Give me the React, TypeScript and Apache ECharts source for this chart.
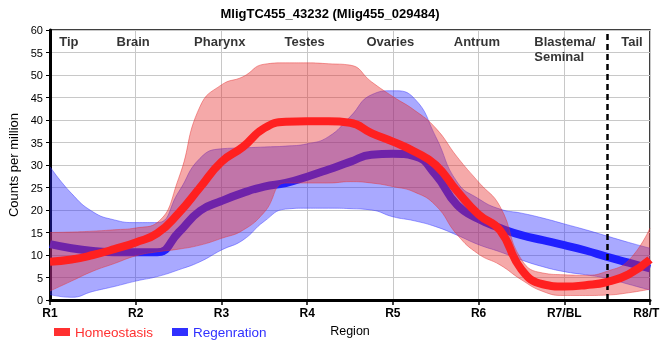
import React, { useEffect, useRef } from 'react';
import * as echarts from 'echarts';

// sample positions along the body axis (0 = R1 ... 7 = R8)
const positions = [0, 0.25, 0.5, 0.75, 1, 1.25, 1.5, 1.75, 2, 2.25, 2.5, 2.75, 3, 3.25, 3.5, 3.75, 4, 4.25, 4.5, 4.75, 5, 5.25, 5.5, 5.75, 6, 6.25, 6.5, 6.75, 7];
const regionTicks = ['R1', 'R2', 'R3', 'R4', 'R5', 'R6', 'R7/BL', 'R8/TL'];

const homeoMean = [8.5, 9.0, 10.0, 11.3, 12.8, 14.8, 19.3, 25.0, 30.7, 34.0, 38.2, 39.6, 39.7, 39.7, 39.4, 37.1, 35.2, 33.0, 30.0, 24.2, 19.0, 15.5, 6.8, 3.5, 3.0, 3.3, 4.0, 5.7, 9.0];
const homeoHigh = [15.0, 15.1, 15.3, 15.6, 16.0, 17.2, 27.0, 43.0, 47.8, 49.6, 52.4, 52.7, 52.7, 52.5, 52.2, 48.5, 45.2, 42.2, 38.2, 31.8, 26.2, 20.8, 9.0, 6.0, 5.6, 5.5, 6.4, 8.8, 16.0];
const homeoLow = [2.0, 4.2, 6.4, 8.1, 9.8, 10.7, 11.3, 12.2, 13.7, 15.5, 19.5, 26.0, 26.0, 26.0, 26.3, 26.0, 25.2, 24.0, 21.0, 14.5, 10.2, 7.8, 4.5, 1.9, 1.0, 1.0, 1.1, 1.6, 2.4];

const regenMean = [12.4, 11.5, 10.9, 10.6, 10.6, 10.6, 15.0, 19.8, 22.0, 23.8, 25.2, 26.0, 27.4, 29.0, 30.7, 32.3, 32.5, 32.0, 27.8, 21.1, 18.0, 16.0, 14.4, 13.3, 12.2, 11.0, 9.6, 8.3, 7.0];
const regenHigh = [29.6, 23.7, 19.6, 17.8, 17.2, 17.2, 24.0, 31.5, 33.6, 33.8, 34.0, 34.2, 34.7, 36.3, 40.7, 45.6, 46.5, 44.8, 36.3, 26.2, 22.5, 20.2, 19.3, 18.2, 16.9, 15.6, 14.2, 12.8, 11.5];
const regenLow = [1.2, 0.6, 1.9, 3.0, 4.2, 5.2, 6.7, 8.5, 11.1, 13.3, 17.5, 20.2, 20.4, 20.4, 20.3, 20.0, 18.5, 17.6, 16.3, 14.4, 12.3, 10.7, 8.9, 7.4, 6.3, 5.6, 4.8, 3.5, 2.2];

const regionNames = ['Tip', 'Brain', 'Pharynx', 'Testes', 'Ovaries', 'Antrum', 'Blastema/\nSeminal', 'Tail'];
const regionNamePos = [0.22, 0.97, 1.98, 2.97, 3.97, 4.98, 5.65, 6.79];
const boundaryPos = '6.5';

const FONT = 'Liberation Sans, Arial, sans-serif';

export default function App() {
  const ref = useRef<HTMLDivElement>(null);
  useEffect(() => {
    if (!ref.current) return;
    const chart = echarts.init(ref.current, undefined, { renderer: 'svg' });
    const cats = positions.map(String);
    const isTick = (i: number) => i % 4 === 0;
    const bandSeries = (name: string, stack: string, low: number[], high: number[], edge: string, fill: string, z: number) => [
      {
        name: name + '_low', type: 'line', stack, data: low, smooth: true, symbol: 'none', silent: true, z,
        lineStyle: { color: edge, width: 1 },
      },
      {
        name: name + '_band', type: 'line', stack, data: high.map((h, i) => +(h - low[i]).toFixed(2)), smooth: true, symbol: 'none', silent: true, z,
        lineStyle: { color: edge, width: 1 },
        areaStyle: { color: fill, opacity: 1 },
      },
    ];
    const option: any = {
      animation: false,
      textStyle: { fontFamily: FONT },
      title: {
        text: 'MligTC455_43232 (Mlig455_029484)', left: 'center', top: 2,
        textStyle: { fontFamily: FONT, fontSize: 13, fontWeight: 'bold', color: '#000' },
      },
      grid: {
        left: 50, right: 10, top: 30, bottom: 60, show: true, borderColor: '#000', borderWidth: 1.5,
        backgroundColor: 'transparent', containLabel: false, outerBoundsMode: 'none',
      },
      legend: {
        left: 49, top: 320, itemWidth: 16, itemHeight: 8, itemGap: 19, icon: 'rect',
        textStyle: { fontFamily: FONT, fontSize: 13.5 },
        data: [
          { name: 'Homeostasis', textStyle: { color: '#ff3030' } },
          { name: 'Regenration', textStyle: { color: '#3030ff' } },
        ],
      },
      xAxis: [
        {
          type: 'category', data: cats, boundaryGap: false,
          name: 'Region', nameLocation: 'middle', nameGap: 24,
          nameTextStyle: { fontFamily: FONT, fontSize: 12.5, color: '#000' },
          axisLine: { lineStyle: { color: '#000', width: 3 } },
          axisTick: { interval: (i: number) => isTick(i), length: 5, lineStyle: { color: '#000', width: 1.5 } },
          axisLabel: {
            interval: (i: number) => isTick(i),
            formatter: (_v: string, i: number) => (isTick(i) ? regionTicks[i / 4] : ''),
            fontFamily: FONT, fontSize: 12, fontWeight: 'bold', color: '#000', margin: 7,
          },
          splitLine: { show: true, interval: (i: number) => isTick(i), lineStyle: { color: '#c8c8c8', width: 1 } },
        },
        { type: 'value', min: 0, max: 7, show: false },
      ],
      yAxis: {
        type: 'value', min: 0, max: 60, interval: 5,
        name: 'Counts per million', nameLocation: 'middle', nameGap: 20,
        nameTextStyle: { fontFamily: FONT, fontSize: 13, color: '#000' },
        axisLine: { show: true, lineStyle: { color: '#000', width: 3 } },
        axisTick: { show: true, length: 4, lineStyle: { color: '#000', width: 1 } },
        axisLabel: { fontFamily: FONT, fontSize: 11, color: '#000', margin: 7 },
        splitLine: { lineStyle: { color: '#c8c8c8', width: 1 } },
      },
      series: [
        ...bandSeries('regen', 'regen', regenLow, regenHigh, 'rgba(50,50,255,0.45)', 'rgba(40,40,255,0.4)', 2),
        {
          name: 'Regenration', type: 'line', data: regenMean, smooth: true, symbol: 'none', z: 3,
          lineStyle: { color: '#2020ff', width: 8 }, itemStyle: { color: '#3030ff' },
        },
        ...bandSeries('homeo', 'homeo', homeoLow, homeoHigh, 'rgba(230,50,50,0.45)', 'rgba(230,40,40,0.4)', 4),
        {
          name: 'Homeostasis', type: 'line', data: homeoMean, smooth: true, symbol: 'none', z: 5,
          lineStyle: { color: '#ff2020', width: 8 }, itemStyle: { color: '#ff3030' },
          markLine: {
            silent: true, symbol: 'none', label: { show: false },
            lineStyle: { color: '#000', width: 2.5, type: [6, 4] },
            data: [{ xAxis: boundaryPos }],
          },
        },
        {
          name: 'regions', type: 'scatter', xAxisIndex: 1, yAxisIndex: 0, symbolSize: 0, silent: true, z: 6,
          data: regionNames.map((n, i) => {
            const item: any = { value: [regionNamePos[i], 60], name: n };
            if (n.indexOf('\n') >= 0) item.label = { align: 'left' };
            return item;
          }),
          label: {
            show: true, position: 'bottom', distance: 4, formatter: (p: any) => p.name,
            fontFamily: FONT, fontSize: 13, fontWeight: 'bold', color: '#000', lineHeight: 15,
          },
        },
      ],
    };
    chart.setOption(option);
    return () => chart.dispose();
  }, []);
  return <div ref={ref} style={{ position: 'fixed', left: 0, top: 0, width: 660, height: 360 }} />;
}
